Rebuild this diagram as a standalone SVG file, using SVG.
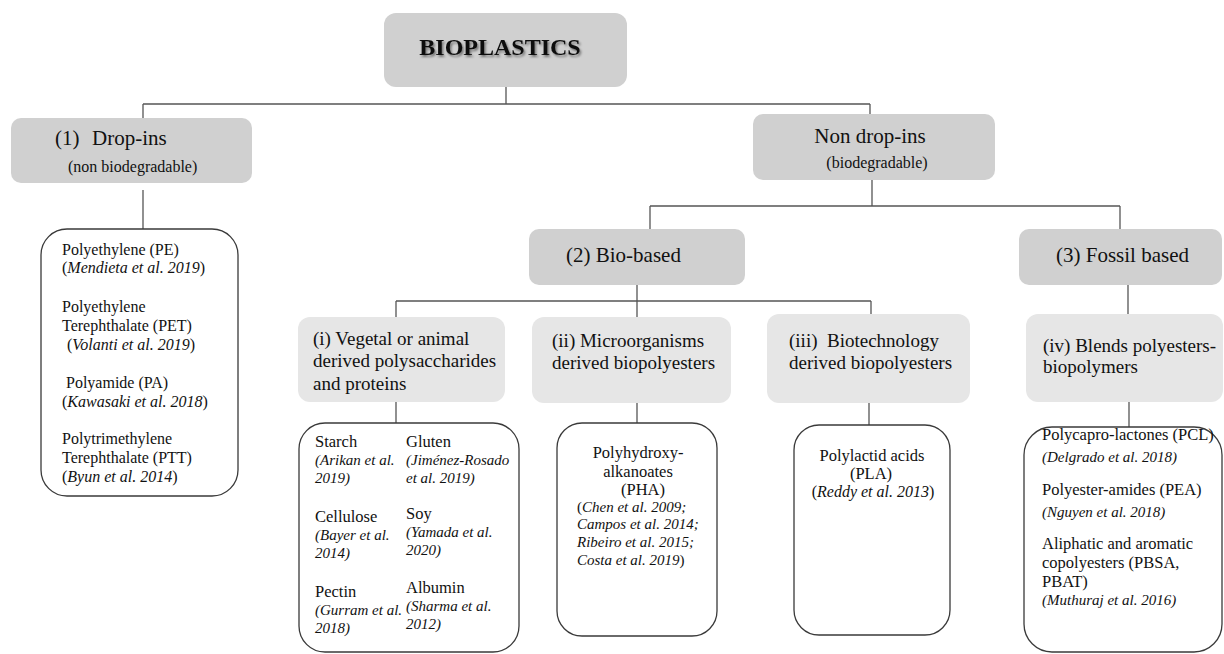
<svg xmlns="http://www.w3.org/2000/svg" width="1224" height="654" viewBox="0 0 1224 654" font-family="'Liberation Serif', 'Times New Roman', Times, 'DejaVu Serif', serif">
<defs>
<filter id="tshadow" x="-10%" y="-30%" width="130%" height="180%">
<feDropShadow dx="1.5" dy="2" stdDeviation="1.2" flood-color="#000" flood-opacity="0.45"/>
</filter>
</defs>
<style>
.b1{fill:#d0d0d0}
.b2{fill:#e6e6e6}
.lst{fill:#fff;stroke:#3a3a3a;stroke-width:1.3}
.conn path{stroke:#555;stroke-width:1.3;fill:none}
text{font-family:'Liberation Serif','Times New Roman',Times,'DejaVu Serif',serif;fill:#111}
.h1{font-size:24px;font-weight:bold}
.h2{font-size:21px}
.s16{font-size:16px}
.h3{font-size:19px}
.n16{font-size:16px}
.n17{font-size:16.5px}
.r15{font-size:15px;font-style:italic}
.it{font-style:italic}
.mid{text-anchor:middle}
</style>
<rect width="1224" height="654" fill="#fff"/>

<g class="conn" id="connectors">
<path d="M506 87V104"/>
<path d="M143 104H870"/>
<path d="M143 104V118"/>
<path d="M870 104V114"/>
<path d="M143 190V229"/>
<path d="M872 180V206"/>
<path d="M650 206H1120"/>
<path d="M650 206V229"/>
<path d="M1120 206V229"/>
<path d="M637 285V317"/>
<path d="M396 301H871"/>
<path d="M396 301V317"/>
<path d="M871 301V314"/>
<path d="M1128 285V314"/>
<path d="M396 402V423"/>
<path d="M637 403V423"/>
<path d="M869 403V425"/>
<path d="M1129 402V427"/>
</g>

<g id="bioplastics">
<rect class="b1" x="384" y="13" width="243" height="74" rx="12"/>
<text class="h1 mid" x="500" y="55" filter="url(#tshadow)">BIOPLASTICS</text>
</g>

<g id="dropins">
<rect class="b1" x="11" y="118" width="241" height="65" rx="10"/>
<text class="h2" x="55" y="145">(1)</text>
<text class="h2" x="92" y="145">Drop-ins</text>
<text class="s16" x="68" y="172">(non biodegradable)</text>
</g>

<g id="nondropins">
<rect class="b1" x="753" y="114" width="242" height="66" rx="10"/>
<text class="h2 mid" x="870" y="143">Non drop-ins</text>
<text class="s16 mid" x="877" y="168">(biodegradable)</text>
</g>

<g id="biobased">
<rect class="b1" x="529" y="229" width="216" height="56" rx="10"/>
<text class="h2" x="566" y="262">(2) Bio-based</text>
</g>

<g id="fossil">
<rect class="b1" x="1019" y="229" width="203" height="56" rx="10"/>
<text class="h2" x="1056" y="262">(3) Fossil based</text>
</g>

<g id="cat-i">
<rect class="b2" x="298" y="317" width="207" height="85" rx="12"/>
<text class="h3" x="313" y="345">(i) Vegetal or animal</text>
<text class="h3" x="313" y="367">derived polysaccharides</text>
<text class="h3" x="313" y="390">and proteins</text>
</g>

<g id="cat-ii">
<rect class="b2" x="532" y="317" width="199" height="86" rx="12"/>
<text class="h3" x="552" y="347">(ii) Microorganisms</text>
<text class="h3" x="552" y="369">derived biopolyesters</text>
</g>

<g id="cat-iii">
<rect class="b2" x="767" y="314" width="203" height="89" rx="12"/>
<text class="h3" x="789" y="347">(iii)</text>
<text class="h3" x="827" y="347">Biotechnology</text>
<text class="h3" x="789" y="369">derived biopolyesters</text>
</g>

<g id="cat-iv">
<rect class="b2" x="1026" y="314" width="197" height="88" rx="12"/>
<text class="h3" x="1043" y="352">(iv) Blends polyesters-</text>
<text class="h3" x="1043" y="373">biopolymers</text>
</g>

<g id="list-dropins">
<rect class="lst" x="41" y="229" width="197" height="267" rx="26"/>
<text class="n16" x="62" y="255">Polyethylene (PE)</text>
<text class="n16" x="62" y="273">(<tspan class="it">Mendieta et al. 2019</tspan>)</text>
<text class="n16" x="62" y="312">Polyethylene</text>
<text class="n16" x="62" y="331">Terephthalate (PET)</text>
<text class="n16" x="67" y="350">(<tspan class="it">Volanti et al. 2019</tspan>)</text>
<text class="n16" x="66" y="388">Polyamide (PA)</text>
<text class="n16" x="62" y="407">(<tspan class="it">Kawasaki et al. 2018</tspan>)</text>
<text class="n16" x="62" y="444">Polytrimethylene</text>
<text class="n16" x="62" y="463">Terephthalate (PTT)</text>
<text class="n16" x="62" y="482">(<tspan class="it">Byun et al. 2014</tspan>)</text>
</g>

<g id="list-i">
<rect class="lst" x="299" y="423" width="220" height="229" rx="26"/>
<text class="n17" x="315" y="447">Starch</text>
<text class="r15" x="315" y="465">(Arikan et al.</text>
<text class="r15" x="315" y="483">2019)</text>
<text class="n17" x="406" y="447">Gluten</text>
<text class="r15" x="406" y="465">(Jiménez-Rosado</text>
<text class="r15" x="406" y="483">et al. 2019)</text>
<text class="n17" x="315" y="522">Cellulose</text>
<text class="r15" x="315" y="540">(Bayer et al.</text>
<text class="r15" x="315" y="558">2014)</text>
<text class="n17" x="406" y="519">Soy</text>
<text class="r15" x="406" y="537">(Yamada et al.</text>
<text class="r15" x="406" y="555">2020)</text>
<text class="n17" x="315" y="597">Pectin</text>
<text class="r15" x="315" y="615">(Gurram et al.</text>
<text class="r15" x="315" y="633">2018)</text>
<text class="n17" x="406" y="593">Albumin</text>
<text class="r15" x="406" y="611">(Sharma et al.</text>
<text class="r15" x="406" y="629">2012)</text>
</g>

<g id="list-pha">
<rect class="lst" x="557" y="423" width="160" height="213" rx="25"/>
<text class="n17 mid" x="638" y="458">Polyhydroxy-</text>
<text class="n17 mid" x="638" y="477">alkanoates</text>
<text class="n17 mid" x="643" y="495">(PHA)</text>
<text x="577" y="512" style="font-size:15px">(<tspan class="it">Chen et al. 2009;</tspan></text>
<text class="r15" x="577" y="529">Campos et al. 2014;</text>
<text class="r15" x="577" y="547">Ribeiro et al. 2015;</text>
<text x="577" y="565" style="font-size:15px"><tspan class="it">Costa et al. 2019</tspan>)</text>
</g>

<g id="list-pla">
<rect class="lst" x="794" y="425" width="156" height="210" rx="25"/>
<text class="n17 mid" x="872" y="461">Polylactid acids</text>
<text class="n17 mid" x="871" y="479">(PLA)</text>
<text class="n16 mid" x="873" y="497">(<tspan class="it">Reddy et al. 2013</tspan>)</text>
</g>

<g id="list-iv">
<rect class="lst" x="1024" y="427" width="198" height="225" rx="28"/>
<text class="n17" x="1042" y="440">Polycapro-lactones (PCL)</text>
<text class="r15" x="1042" y="462">(Delgrado et al. 2018)</text>
<text class="n17" x="1042" y="495">Polyester-amides (PEA)</text>
<text class="r15" x="1042" y="517">(Nguyen et al. 2018)</text>
<text class="n17" x="1042" y="549">Aliphatic and aromatic</text>
<text class="n17" x="1042" y="568">copolyesters (PBSA,</text>
<text class="n17" x="1042" y="587">PBAT)</text>
<text class="r15" x="1042" y="605">(Muthuraj et al. 2016)</text>
</g>
</svg>
